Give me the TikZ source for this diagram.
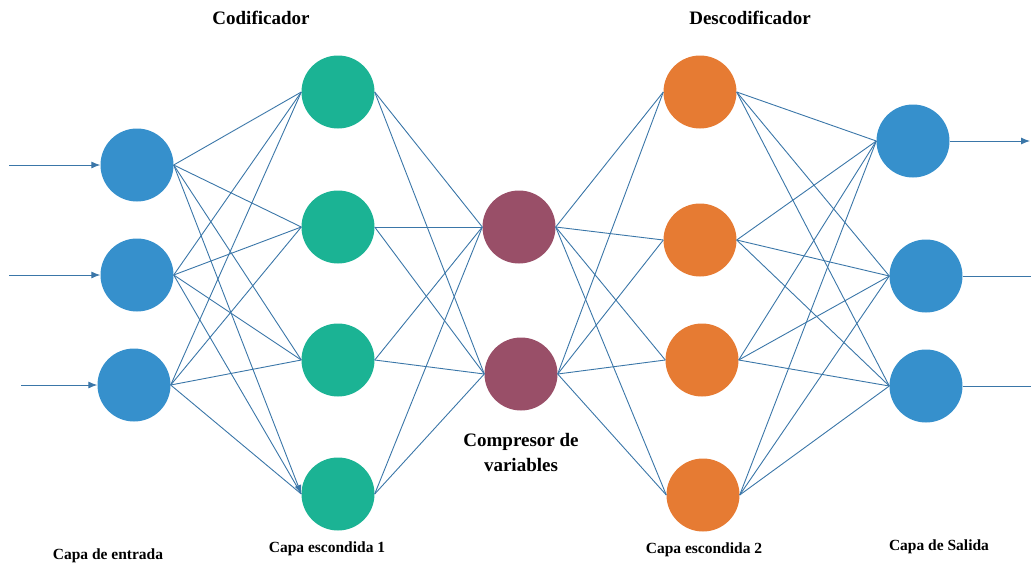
\documentclass[tikz,border=0pt]{standalone}
\usepackage{fontspec}
\setmainfont{Liberation Serif}
\usetikzlibrary{arrows.meta}
\definecolor{edgeblue}{RGB}{58,118,168}
\definecolor{inblue}{RGB}{54,144,204}
\definecolor{teal1}{RGB}{27,179,148}
\definecolor{plum}{RGB}{153,79,104}
\definecolor{orng}{RGB}{230,123,51}
\tikzset{
  neuron/.style={circle, minimum size=73pt, inner sep=0pt, draw=none},
  link/.style={draw=edgeblue, line width=0.9pt},
  tip/.style={-{Latex[length=9pt,width=7pt]}},
  head/.style={font=\bfseries\fontsize{19}{22}\selectfont, text=black},
  caption/.style={font=\bfseries\fontsize{15.5}{18}\selectfont, text=black},
}
\begin{document}
\begin{tikzpicture}[x=1pt, y=-1pt]
\useasboundingbox (0,0) rectangle (1031,566);

% input layer
\node[neuron, fill=inblue] (i1) at (137,165) {};
\node[neuron, fill=inblue] (i2) at (137,275) {};
\node[neuron, fill=inblue] (i3) at (134,385) {};
% encoder hidden layer
\node[neuron, fill=teal1] (a1) at (338,92) {};
\node[neuron, fill=teal1] (a2) at (338,227) {};
\node[neuron, fill=teal1] (a3) at (338,360) {};
\node[neuron, fill=teal1] (a4) at (338,494) {};
% bottleneck
\node[neuron, fill=plum] (z1) at (519,227) {};
\node[neuron, fill=plum] (z2) at (521,374) {};
% decoder hidden layer
\node[neuron, fill=orng] (b1) at (700,92) {};
\node[neuron, fill=orng] (b2) at (700,240) {};
\node[neuron, fill=orng] (b3) at (702,360) {};
\node[neuron, fill=orng] (b4) at (703,495) {};
% output layer
\node[neuron, fill=inblue] (o1) at (913,141) {};
\node[neuron, fill=inblue] (o2) at (926,276) {};
\node[neuron, fill=inblue] (o3) at (926,386) {};

% dense connections between consecutive layers
\foreach \s in {i1,i2,i3}
  \foreach \t in {a1,a2,a3}
    \draw[link] (\s.east) -- (\t.west);
\draw[link, tip] (i1.east) -- (a4.west);
\draw[link] (i2.east) -- (a4.west);
\draw[link] (i3.east) -- (a4.west);
\foreach \s in {a1,a2,a3,a4}
  \foreach \t in {z1,z2}
    \draw[link] (\s.east) -- (\t.west);
\foreach \s in {z1,z2}
  \foreach \t in {b1,b2,b3,b4}
    \draw[link] (\s.east) -- (\t.west);
\foreach \s in {b1,b2,b3,b4}
  \foreach \t in {o1,o2,o3}
    \draw[link] (\s.east) -- (\t.west);

% inputs and outputs
\coordinate (x1) at (9,165);
\coordinate (x2) at (9,275);
\coordinate (x3) at (21,385);
\coordinate (y1) at (1030,141);
\coordinate (y2) at (1031,276);
\coordinate (y3) at (1031,386);
\draw[link, tip] (x1) -- (i1.west);
\draw[link, tip] (x2) -- (i2.west);
\draw[link, tip] (x3) -- (i3.west);
\draw[link, tip] (o1.east) -- (y1);
\draw[link] (o2.east) -- (y2);
\draw[link] (o3.east) -- (y3);

% titles and layer captions
\node[head] (enc) at (261,18) {Codificador};
\node[head] (dec) at (750,18) {Descodificador};
\node[head, align=center, font=\bfseries\fontsize{19}{25}\selectfont] (cmp) at (521,452) {Compresor de\\variables};
\node[caption] (c1) at (108,556) {Capa de entrada};
\node[caption] (c2) at (327,549) {Capa escondida 1};
\node[caption] (c3) at (704,550) {Capa escondida 2};
\node[caption] (c4) at (939,547) {Capa de Salida};
\end{tikzpicture}
\end{document}
